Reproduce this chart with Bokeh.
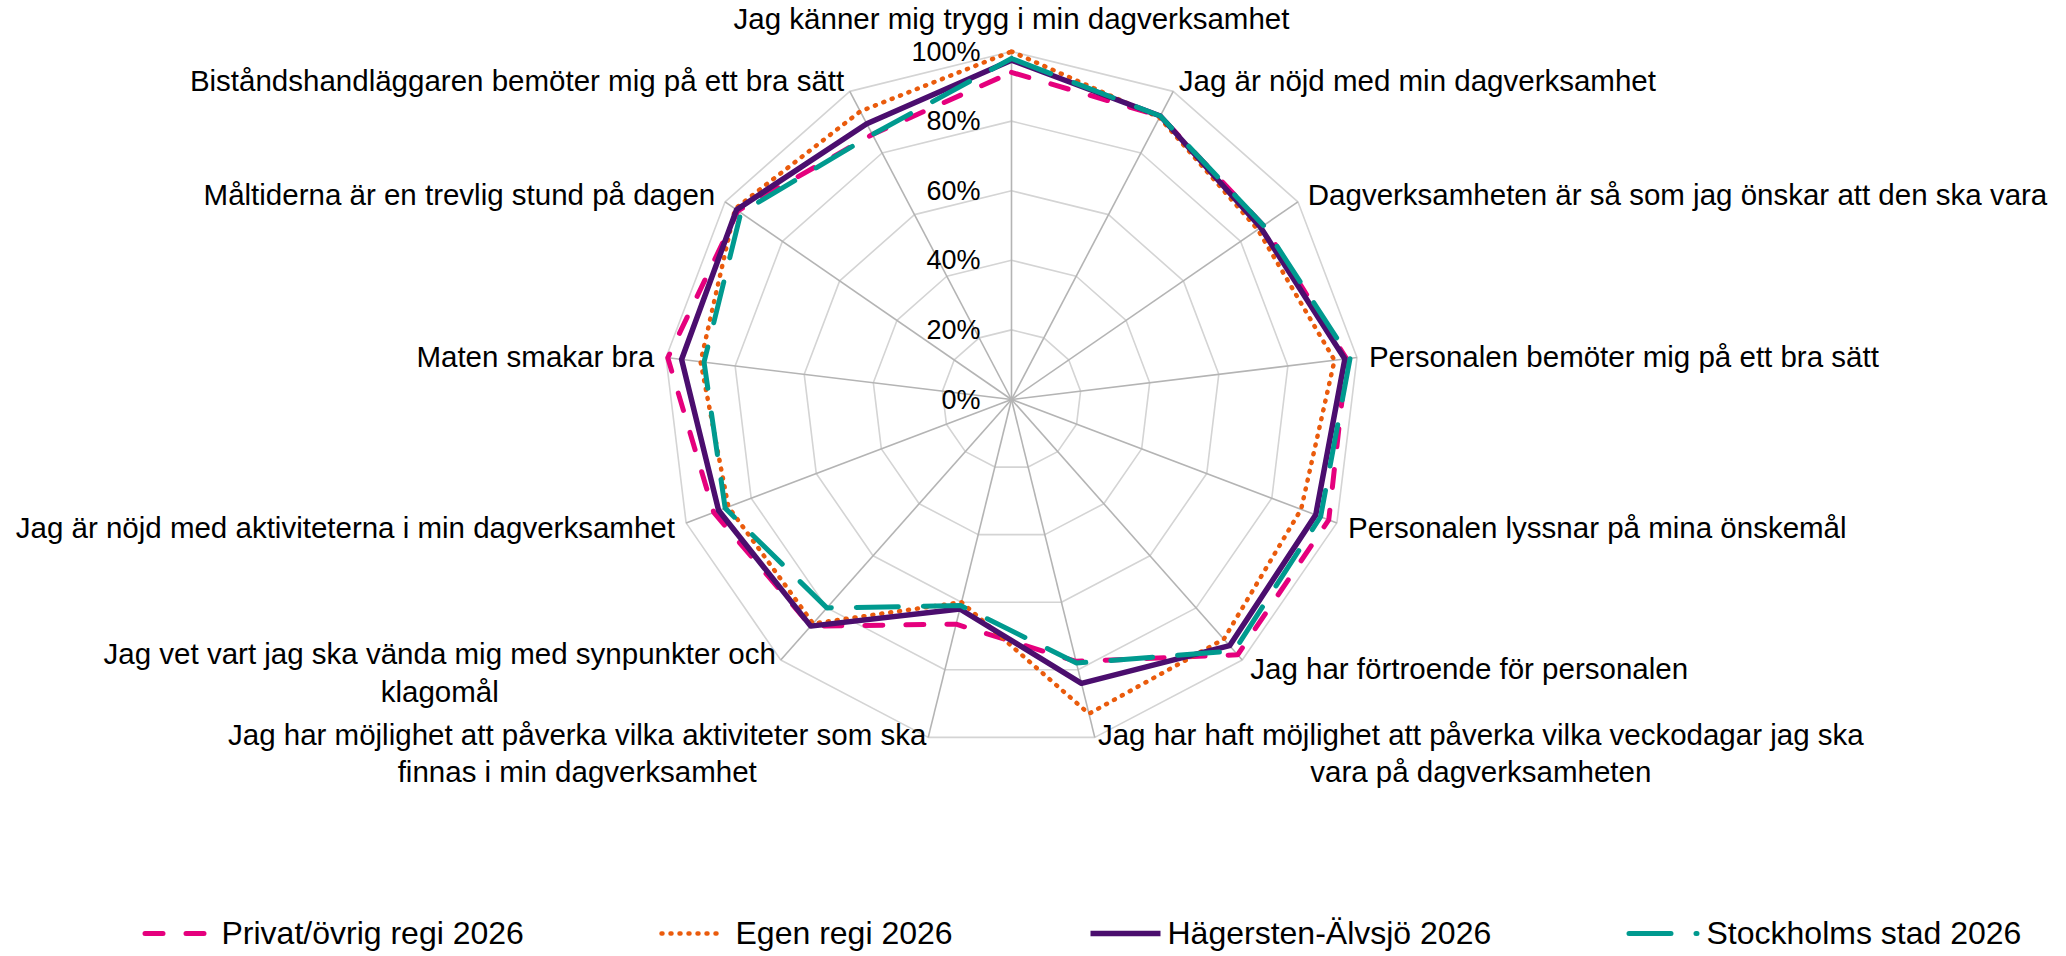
import math
from bokeh.plotting import figure
from bokeh.models import Range1d
from bokeh.embed import file_html
from bokeh.resources import INLINE
from bokeh.core.properties import value

# ---------------- data ----------------
categories = [
    "Jag känner mig trygg i min dagverksamhet",
    "Jag är nöjd med min dagverksamhet",
    "Dagverksamheten är så som jag önskar att den ska vara",
    "Personalen bemöter mig på ett bra sätt",
    "Personalen lyssnar på mina önskemål",
    "Jag har förtroende för personalen",
    "Jag har haft möjlighet att påverka vilka veckodagar jag ska\nvara på dagverksamheten",
    "Jag har möjlighet att påverka vilka aktiviteter som ska\nfinnas i min dagverksamhet",
    "Jag vet vart jag ska vända mig med synpunkter och\nklagomål",
    "Jag är nöjd med aktiviteterna i min dagverksamhet",
    "Maten smakar bra",
    "Måltiderna är en trevlig stund på dagen",
    "Biståndshandläggaren bemöter mig på ett bra sätt",
]
privat_ovrig_regi = [94, 92, 88, 97, 97.5, 98, 77.5, 66.5, 87, 91.5, 99.5, 95.5, 86]
egen_regi = [100, 91.5, 86, 93.5, 89, 92, 93, 60, 86, 87, 90, 96.5, 93.5]
hagersten_alvsjo = [97.5, 92, 87, 96.5, 93.5, 94.5, 84, 62, 87, 90, 95.5, 96, 89.5]
stockholms_stad = [98, 92, 88, 98, 95, 96.5, 78, 61, 80, 88, 89, 94.5, 86]
tick_values = [0, 20, 40, 60, 80, 100]
tick_labels = ["0%", "20%", "40%", "60%", "80%", "100%"]
series_names = ["Privat/övrig regi 2026", "Egen regi 2026", "Hägersten-Älvsjö 2026", "Stockholms stad 2026"]

# ---------------- layout / style ----------------
W, H = 2066, 956
CX, CY, R = 1011, 399, 348
FONT = "Liberation Sans"
colors = ["#E5007D", "#EA5B0C", "#4B0E6E", "#009A8F"]
widths = [5, 4.5, 5.5, 5]
dashes = ["18 23", "1 8", "solid", "42 25"]
caps = ["round", "round", "butt", "round"]

n = len(categories)
ang = [math.pi / 2 - 2 * math.pi * k / n for k in range(n)]


def pt(k, v):
    r = R * v / 100.0
    return CX + r * math.cos(ang[k]), CY - r * math.sin(ang[k])


p = figure(width=W, height=H, x_range=Range1d(0, W), y_range=Range1d(H, 0),
           output_backend="svg", toolbar_location=None, min_border=0,
           x_axis_type=None, y_axis_type=None)
p.grid.visible = False
p.outline_line_color = None
p.background_fill_color = "white"
p.border_fill_color = "white"

# rings
ring_xs, ring_ys = [], []
for tv in tick_values[1:]:
    xs = [pt(k, tv)[0] for k in range(n)] + [pt(0, tv)[0]]
    ys = [pt(k, tv)[1] for k in range(n)] + [pt(0, tv)[1]]
    ring_xs.append(xs)
    ring_ys.append(ys)
p.multi_line(ring_xs, ring_ys, line_color="#D4D4D4", line_width=1.6)

# spokes
p.segment(x0=[CX] * n, y0=[CY] * n,
          x1=[pt(k, 100)[0] for k in range(n)], y1=[pt(k, 100)[1] for k in range(n)],
          line_color="#B4B4B4", line_width=1.6)

# tick labels
p.text(x=[CX - 31] * len(tick_values), y=[pt(0, tv)[1] for tv in tick_values], text=tick_labels,
       text_font=value(FONT), text_font_size="27px", text_align="right",
       text_baseline="middle", text_color="#000000")

# series
all_series = [privat_ovrig_regi, egen_regi, hagersten_alvsjo, stockholms_stad]
for vals, c, w, d, cap in zip(all_series, colors, widths, dashes, caps):
    xs = [pt(k, v)[0] for k, v in enumerate(vals)] + [pt(0, vals[0])[0]]
    ys = [pt(k, v)[1] for k, v in enumerate(vals)] + [pt(0, vals[0])[1]]
    p.line(xs, ys, line_color=c, line_width=w, line_dash=d, line_cap=cap, line_join="round")

# category labels
wrapped_offsets = {6: (386, 15.6), 7: (-351, 15.6), 8: (-341, 12.5)}
for k, lab in enumerate(categories):
    vx, vy = pt(k, 100)
    c, s = math.cos(ang[k]), math.sin(ang[k])
    if k in wrapped_offsets:
        dx, dy = wrapped_offsets[k]
        x, y, al = vx + dx, vy + dy, "center"
    elif k == 0:
        x, y, al = vx, vy - 33, "center"
    else:
        x, y = vx + 12 * c, vy - 12 * s
        al = "left" if c > 0 else "right"
    p.text(x=[x], y=[y], text=[lab], text_font=value(FONT), text_font_size="29.5px",
           text_align=al, text_baseline="middle", text_color="#000000", text_line_height=1.13)

# legend
leg_x0 = [144.5, 661, 1090, 1628.5]
leg_x1 = [204.5, 716, 1160, 1696.5]
leg_tx = [221, 735, 1167, 1706]
leg_y = 933
for i, name in enumerate(series_names):
    p.line([leg_x0[i], leg_x1[i]], [leg_y, leg_y], line_color=colors[i],
           line_width=widths[i], line_dash=dashes[i], line_cap=caps[i])
    p.text(x=[leg_tx[i]], y=[leg_y - 0.5], text=[name], text_font=value(FONT), text_font_size="32px",
           text_align="left", text_baseline="middle", text_color="#000000")

open("out.html", "w").write(file_html(p, INLINE))
